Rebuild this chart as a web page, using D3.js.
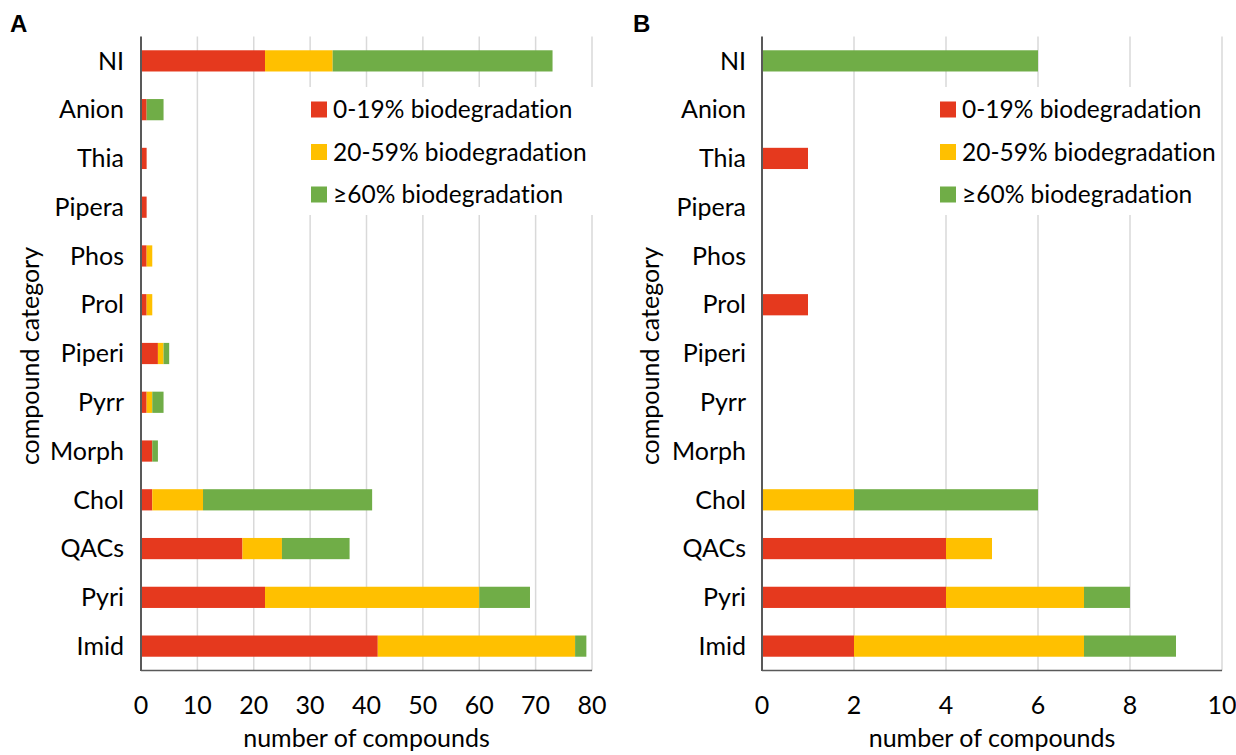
<!DOCTYPE html>
<html><head><meta charset="utf-8">
<script src="https://cdn.jsdelivr.net/npm/d3@7"></script>
<style>body{margin:0;background:#fff}svg{display:block}text{font-family:Lato,"Open Sans",sans-serif;fill:#000;font-variant-ligatures:none;font-feature-settings:"liga" 0}</style>
</head><body>
<svg id="c" width="1236" height="755"></svg>
<script>
const categories = ["NI","Anion","Thia","Pipera","Phos","Prol","Piperi","Pyrr","Morph","Chol","QACs","Pyri","Imid"];
const seriesNames = ["0-19% biodegradation","20-59% biodegradation","≥60% biodegradation"];
const seriesColors = ["#E5391E","#FFC000","#70AD47"];
// Panel A values per category (low, mid, high)
const aLow  = [22,1,1,1,1,1,3,1,2,2,18,22,42];
const aMid  = [12,0,0,0,1,1,1,1,0,9,7,38,35];
const aHigh = [39,3,0,0,0,0,1,2,1,30,12,9,2];
// Panel B values
const bLow  = [0,0,1,0,0,1,0,0,0,0,4,4,2];
const bMid  = [0,0,0,0,0,0,0,0,0,2,1,3,5];
const bHigh = [6,0,0,0,0,0,0,0,0,4,0,1,2];
const aTicks = [0,10,20,30,40,50,60,70,80];
const bTicks = [0,2,4,6,8,10];

const svg = d3.select("#c");
const plotTop = 36.5, plotBottom = 670.5;
const FS = 25;

function panel(opts){
  const {x0,x1,max,ticks,low,mid,high,label,labelX,legendX,titleX} = opts;
  const g = svg.append("g");
  const x = d3.scaleLinear().domain([0,max]).range([x0,x1]);
  const y = d3.scaleBand().domain(categories).range([plotTop,plotBottom]).paddingInner(0.565).paddingOuter(0.2825);
  g.append("g").selectAll("line").data(ticks.slice(1)).join("line")
    .attr("x1",d=>x(d)).attr("x2",d=>x(d)).attr("y1",plotTop).attr("y2",plotBottom)
    .attr("stroke","#d9d9d9").attr("stroke-width",1.5);
  const lg = g.append("g");
  lg.append("rect").attr("x",legendX-6).attr("y",87).attr("width",opts.legendW).attr("height",128).attr("fill","#fff");
  const rows = categories.map((c,i)=>({c, v:[low[i],mid[i],high[i]]}));
  const stack = d3.stack().keys([0,1,2]).value((d,k)=>d.v[k])(rows);
  stack.forEach((s,k)=>{
    g.append("g").selectAll("rect").data(s.filter(d=>d[1]-d[0]>0)).join("rect")
      .attr("x",d=>x(d[0])).attr("width",d=>x(d[1])-x(d[0]))
      .attr("y",d=>y(d.data.c)).attr("height",y.bandwidth())
      .attr("fill",seriesColors[k]);
  });
  g.append("line").attr("x1",x0).attr("x2",x0).attr("y1",plotTop).attr("y2",plotBottom+0.5).attr("stroke","#595959").attr("stroke-width",2);
  g.append("line").attr("x1",x0).attr("x2",x1).attr("y1",plotBottom).attr("y2",plotBottom).attr("stroke","#595959").attr("stroke-width",1.5);
  g.append("g").selectAll("text").data(ticks).join("text")
    .attr("x",d=>x(d)).attr("y",714).attr("text-anchor","middle").attr("font-size",FS).text(d=>d);
  g.append("g").selectAll("text").data(categories).join("text")
    .attr("x",labelX).attr("y",d=>y(d)+y.bandwidth()/2).attr("dy","0.35em")
    .attr("text-anchor","end").attr("font-size",FS).text(d=>d);
  g.append("text").attr("x",(x0+x1)/2).attr("y",747).attr("text-anchor","middle").attr("font-size",FS).text("number of compounds");
  g.append("text").attr("transform",`translate(${titleX},356) rotate(-90)`).attr("text-anchor","middle").attr("dy","0.35em").attr("font-size",FS).text("compound category");
  g.append("text").attr("x",opts.pX).attr("y",32).attr("font-size",24).attr("font-weight","bold")
    .style("font-family","'Liberation Sans',Arial,sans-serif").text(label);
  seriesNames.forEach((n,k)=>{
    const cy = 109.5 + k*42.5;
    lg.append("rect").attr("x",legendX).attr("y",cy-8).attr("width",16).attr("height",16).attr("fill",seriesColors[k]);
    lg.append("text").attr("x",legendX+22).attr("y",cy).attr("dy","0.36em").attr("font-size",24.5).text(n);
  });
}

panel({x0:141,x1:592,max:80,ticks:aTicks,low:aLow,mid:aMid,high:aHigh,label:"A",labelX:124,legendX:311,legendW:290,titleX:30,pX:10});
panel({x0:762,x1:1222,max:10,ticks:bTicks,low:bLow,mid:bMid,high:bHigh,label:"B",labelX:746,legendX:940,legendW:280,titleX:650,pX:633});
</script>
</body></html>
